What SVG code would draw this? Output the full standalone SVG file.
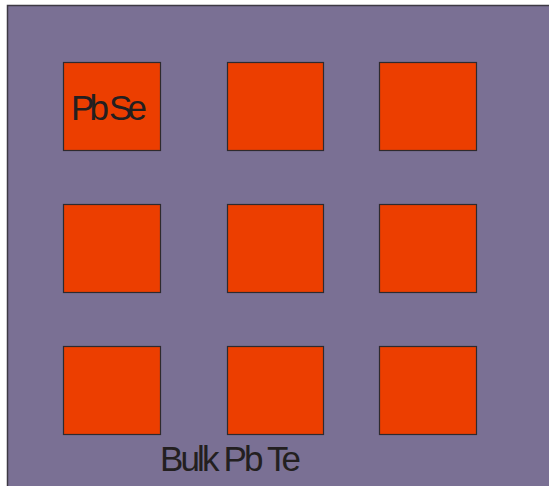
<svg xmlns="http://www.w3.org/2000/svg" width="549" height="486" viewBox="0 0 549 486">
<style>
.dot{fill:#ec3e00;stroke:#2e2a2e;stroke-width:1.2}
.lbl{font-family:"Liberation Sans",Arial,sans-serif;fill:#231f20}
</style>
<rect x="0" y="0" width="549" height="486" fill="#ffffff"/>
<g id="bulk">
<rect x="7.5" y="5.5" width="560" height="500" fill="#7a7094" stroke="#3e3a44" stroke-width="1.5"/>
<text class="lbl" x="160" y="471" font-size="35" textLength="141" lengthAdjust="spacing">Bulk Pb Te</text>
</g>
<g id="dot1"><rect class="dot" x="63.5" y="62.5" width="97" height="88"/><text class="lbl" x="71" y="120" font-size="35" textLength="76" lengthAdjust="spacing">Pb Se</text></g>
<g id="dot2"><rect class="dot" x="227.5" y="62.5" width="96" height="88"/></g>
<g id="dot3"><rect class="dot" x="379.5" y="62.5" width="97" height="88"/></g>
<g id="dot4"><rect class="dot" x="63.5" y="204.5" width="97" height="88"/></g>
<g id="dot5"><rect class="dot" x="227.5" y="204.5" width="96" height="88"/></g>
<g id="dot6"><rect class="dot" x="379.5" y="204.5" width="97" height="88"/></g>
<g id="dot7"><rect class="dot" x="63.5" y="346.5" width="97" height="88"/></g>
<g id="dot8"><rect class="dot" x="227.5" y="346.5" width="96" height="88"/></g>
<g id="dot9"><rect class="dot" x="379.5" y="346.5" width="97" height="88"/></g>
<g id="connectors"/>
</svg>
